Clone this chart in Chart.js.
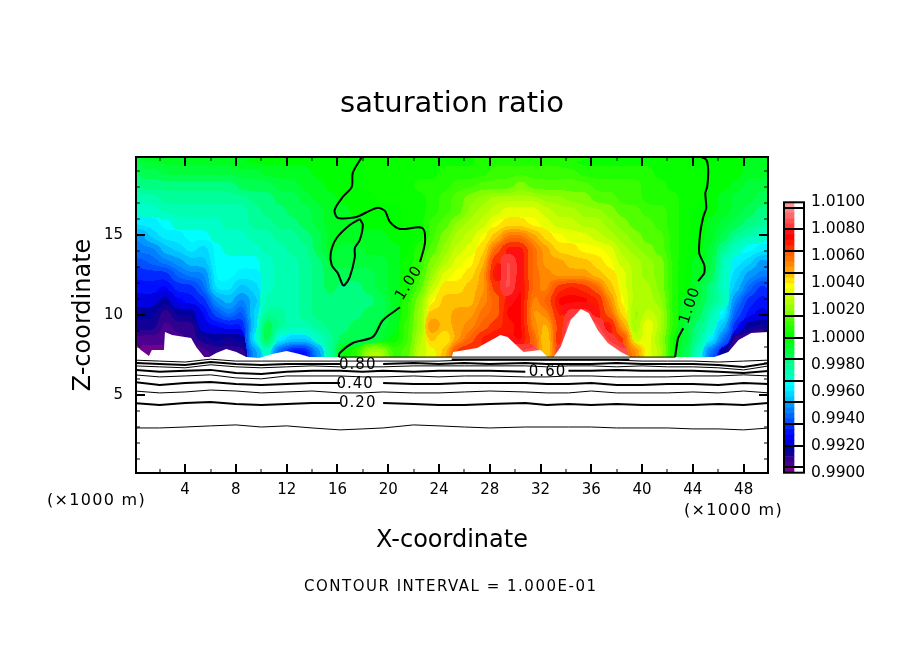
<!DOCTYPE html>
<html>
<head>
<meta charset="utf-8">
<script src="https://cdn.jsdelivr.net/npm/chart.js@4"></script>
<style>
html,body{margin:0;padding:0;background:#fff;width:904px;height:654px;overflow:hidden}
#main{position:absolute;left:0;top:0}
#bar{position:absolute;left:770px;top:186px}
</style>
</head>
<body>
<canvas id="main" width="904" height="654"></canvas>
<canvas id="bar" width="134" height="303"></canvas>
<script>
// Saturation ratio, as (ratio - 1) * 10000, one array per height (x = 0.5 ... 49.5 km)
const xCentres = [0.5,1.5,2.5,3.5,4.5,5.5,6.5,7.5,8.5,9.5,10.5,11.5,12.5,13.5,14.5,15.5,16.5,17.5,18.5,19.5,20.5,21.5,22.5,23.5,24.5,25.5,26.5,27.5,28.5,29.5,30.5,31.5,32.5,33.5,34.5,35.5,36.5,37.5,38.5,39.5,40.5,41.5,42.5,43.5,44.5,45.5,46.5,47.5,48.5,49.5];
const zCentres = [7.7,8.5,9.3,10.1,10.9,11.7,12.5,13.3,14.1,14.9,15.7,16.5,17.3,18.1,18.9,19.7];
const row076 = [-97,-97,-98,-98,-98,-94,-92,-92,-90,-50,-30,-62,-76,-76,-52,-24,-4,6,24,26,10,12,28,34,46,66,76,80,82,90,84,84,40,80,95,95,95,95,84,52,34,24,0,-14,-32,-60,-84,-98,-98,-98];
const row084 = [-94,-94,-96,-96,-92,-86,-84,-86,-82,-36,-10,-34,-44,-42,-32,-22,-14,-14,-14,-10,-4,8,24,44,38,50,60,68,72,76,72,60,40,70,95,95,95,82,64,30,34,22,2,-12,-24,-36,-60,-90,-96,-97];
const row092 = [-86,-88,-96,-90,-90,-80,-74,-70,-72,-44,-12,-22,-28,-27,-22,-20,-18,-16,-14,-12,-6,8,22,54,46,48,54,62,66,68,72,52,44,66,90,95,84,72,50,20,36,26,4,-10,-20,-32,-46,-72,-84,-88];
const row100 = [-84,-84,-92,-84,-82,-74,-62,-56,-64,-44,-24,-24,-26,-24,-20,-18,-18,-18,-16,-14,-8,4,22,46,46,48,50,56,60,72,74,50,54,70,80,82,76,62,40,20,28,26,4,-8,-14,-26,-34,-62,-72,-80];
const row108 = [-78,-80,-84,-76,-72,-68,-50,-46,-56,-48,-28,-28,-28,-24,-20,-18,-20,-20,-18,-14,-8,4,18,36,44,46,46,52,60,76,74,54,62,72,74,74,68,54,36,24,24,20,4,-6,-12,-20,-28,-54,-66,-72];
const row116 = [-72,-72,-76,-68,-66,-60,-38,-38,-48,-42,-30,-28,-28,-24,-20,-16,-18,-18,-16,-12,-8,2,14,28,40,42,44,50,64,84,74,56,52,64,68,66,60,46,34,26,24,18,6,-4,-10,-18,-30,-46,-58,-66];
const row124 = [-66,-66,-66,-60,-54,-54,-36,-34,-40,-38,-32,-28,-28,-24,-20,-14,-14,-14,-14,-12,-8,0,10,22,32,36,42,48,72,86,76,58,52,50,50,50,46,40,32,26,22,18,6,-4,-8,-14,-30,-44,-50,-56];
const row132 = [-62,-60,-56,-52,-48,-48,-34,-33,-36,-34,-30,-28,-26,-24,-18,-10,-12,-12,-12,-10,-6,0,6,18,26,32,38,44,70,84,76,56,50,48,46,44,40,36,30,24,20,16,6,-2,-6,-12,-30,-38,-44,-50];
const row140 = [-56,-54,-48,-44,-40,-44,-33,-31,-32,-30,-28,-26,-24,-22,-16,-8,-10,-9,-8,-8,-6,-2,4,14,20,28,32,40,62,76,76,56,48,42,40,38,36,32,26,20,18,14,5,0,-4,-10,-22,-30,-34,-40];
const row148 = [-50,-44,-40,-38,-34,-34,-32,-31,-29,-28,-26,-24,-22,-20,-16,-8,-7,-6,-6,-6,-4,-1,2,10,16,24,30,36,46,58,58,48,40,36,34,32,30,26,22,18,14,12,4,0,-2,-8,-14,-22,-28,-32];
const row156 = [-40,-38,-33,-30,-29,-30,-32,-28,-26,-24,-22,-20,-18,-16,-12,-8,-6,-5,-4,-4,-2,0,2,8,14,20,26,30,36,40,42,36,32,30,28,26,26,22,18,14,12,10,4,0,-2,-6,-10,-14,-18,-24];
const row164 = [-32,-30,-28,-27,-26,-26,-26,-26,-25,-22,-20,-18,-16,-14,-10,-7,-5,-4,-2,-1,-1,1,3,6,10,14,20,26,30,32,33,32,30,27,25,22,20,17,14,12,10,8,4,1,-1,-4,-8,-11,-14,-20];
const row172 = [-26,-25,-24,-23,-23,-23,-23,-22,-21,-19,-17,-15,-13,-11,-8,-5,-4,-2,-1,0,0,2,3,5,8,12,16,20,24,26,26,25,23,21,19,17,15,13,11,9,7,6,4,2,0,-3,-6,-9,-12,-16];
const row180 = [-20,-19,-19,-18,-18,-18,-18,-17,-16,-15,-13,-11,-9,-7,-5,-3,-2,-1,0,1,2,3,4,5,6,8,10,12,14,15,16,15,14,14,13,12,11,10,9,8,6,5,3,1,0,-2,-4,-6,-9,-12];
const row188 = [-13,-13,-12,-12,-12,-11,-11,-11,-10,-9,-8,-7,-6,-5,-4,-3,-2,-1,0,0,1,2,2,3,4,5,6,7,8,8,9,9,8,8,8,7,7,6,6,5,4,3,2,1,0,-1,-2,-3,-5,-8];
const row196 = [-8,-8,-7,-7,-6,-6,-5,-5,-4,-4,-3,-3,-2,-2,-2,-1,-1,-1,0,0,0,1,1,2,2,3,3,4,4,4,4,4,4,4,3,3,3,2,2,2,1,1,0,0,-1,-2,-3,-4,-5,-7];
const fieldRows = [row076,row084,row092,row100,row108,row116,row124,row132,row140,row148,row156,row164,row172,row180,row188,row196];

// Colour bands, lowest to highest, every 0.0004 from 0.9900 to 1.0100
const bandColours = ['#700090','#4c0090','#300090','#100098','#0000a0','#0000e0','#0000ff','#0010ff','#0028ff','#0050ff','#0068ff','#0080ff','#0098ff','#00c0ff','#00d8ff','#00f0ff','#00ffff','#00ffc8','#00ffb0','#00ff98','#00ff80','#00ff50','#00ff38','#00ff20','#00ff00','#08ff00','#20ff00','#38ff00','#50ff00','#80ff00','#98ff00','#b0ff00','#c8ff00','#e8ff00','#ffff00','#ffe000','#ffc000','#ffa000','#ff8800','#ff7000','#ff6000','#ff3000','#ff1800','#ff0000','#ff1010','#ff3838','#ff5050','#ff6868','#ff8080','#ff9999'];
const barSeparators = [0.9904,0.992,0.9936,0.9952,0.9968,0.9984,1.0,1.0016,1.0032,1.0048,1.0064,1.008,1.0096];

// Upper edge of the white (masked) terrain
const terrainX = [0,0.51,1.15,1.38,2.33,2.41,2.97,4.47,4.87,5.5,5.9,6.45,7.24,8.03,8.82,9.85,10.88,11.99,13,13.8,25,25.12,27,28.84,29.4,30.66,32,32.55,33.03,33.58,34.38,35.17,35.8,36.5,37.3,38.33,39.1,45.7,46.8,47.6,48.6,50];
const terrainZ = [8.25,7.81,7.44,7.81,7.81,8.94,8.75,8.56,8.0,7.37,7.37,7.62,7.87,7.69,7.37,7.31,7.56,7.75,7.56,7.37,7.37,7.69,7.94,8.75,8.63,7.69,7.81,7.37,7.37,8.0,9.69,10.37,10.12,9.07,8.25,7.69,7.37,7.37,7.69,8.44,8.88,8.94];

// Contour 1.00 above the terrain
const c100aX = [17.92,17.21,17.13,16.42,15.78,16.02,16.97,17.52,19.11,19.74,20.13,20.93,22.67,22.9,22.51];
const c100aZ = [19.87,18.89,18.01,17.38,16.57,16.07,16.07,16.13,16.69,16.51,15.82,15.38,15.44,14.56,13.31];
const c100bX = [20.93,19.58,18.79,17.21,16.18,16.1];
const c100bZ = [10.48,9.67,8.63,8.25,7.62,7.37];
const c100loopX = [17.76,18,17.76,17.37,17.37,16.97,16.57,16.42,16.02,15.55,15.47,15.94,16.97,17.76];
const c100loopZ = [16.0,15.63,14.69,14.19,13.62,12.37,11.87,11.87,12.62,13.12,13.87,14.81,15.63,16.0];
const c100cX = [44.66,45.06,45.21,45.13,44.98,45.06,44.82,44.58,44.5,44.9,44.9,44.42];
const c100cZ = [19.87,19.7,19.08,18.01,17.63,16.69,16.13,15.13,13.87,13.12,12.62,12.12];
const c100dX = [43.24,42.84,42.6];
const c100dZ = [9.17,8.56,7.37];
const c100flatX = [16.1,42.6];
const c100flatZ = [7.37,7.37];
const c100ridgeX = [25,39];
const c100ridgeZ = [7.22,7.22];

// Contours below the terrain
const lineX = [0,2,4,6,8,10,12,14,16.2,18,19.6,22,24,26,28,30.8,32.5,34.2,36,38,40,42,44,46,48,50];
const c010 = [2.94,2.94,3.0,3.07,3.13,3.0,3.07,2.94,2.82,2.88,2.94,3.13,3.07,3.0,2.94,3.0,3.0,3.0,3.0,2.94,2.94,2.94,2.88,2.88,2.82,2.94];
const c020 = [4.5,4.37,4.5,4.56,4.44,4.37,4.44,4.5,4.5,null,4.5,4.44,4.37,4.37,4.44,4.5,4.37,4.44,4.37,4.44,4.37,4.37,4.37,4.44,4.37,4.5];
const c030 = [5.25,5.13,5.19,5.31,5.25,5.13,5.19,5.25,5.13,5.13,5.19,5.13,5.13,5.19,5.25,5.19,5.13,5.13,5.25,5.13,5.13,5.13,5.19,5.13,5.25,5.13];
const c040 = [5.81,5.63,5.75,5.81,5.69,5.63,5.69,5.75,5.75,null,5.75,5.69,5.69,5.75,5.75,5.75,5.69,5.69,5.75,5.63,5.63,5.69,5.69,5.63,5.75,5.69];
const c050 = [6.26,6.13,6.19,6.26,6.07,6.01,6.19,6.19,6.19,6.13,6.13,6.19,6.13,6.19,6.19,6.13,6.13,6.19,6.19,6.13,6.13,6.13,6.19,6.19,6.26,6.19];
const c060 = [6.57,6.45,6.51,6.57,6.38,6.32,6.45,6.51,6.51,6.45,6.51,6.45,6.51,6.51,6.51,6.45,null,6.51,6.51,6.57,6.51,6.51,6.51,6.45,6.38,6.51];
const c070 = [6.82,6.76,6.7,6.89,6.76,6.7,6.76,6.82,6.76,6.76,6.76,6.82,6.82,6.82,6.82,6.82,6.76,6.82,6.82,6.76,6.82,6.76,6.76,6.7,6.57,6.82];
const c080 = [7.0,6.94,6.88,7.06,6.94,6.88,6.94,6.94,6.94,null,6.94,7.0,6.94,7.0,6.94,7.0,6.94,6.94,6.94,7.0,6.94,6.94,6.94,6.88,6.75,7.0];
const c090 = [7.18,7.12,7.06,7.24,7.12,7.12,7.12,7.12,7.12,7.12,7.12,7.12,7.12,7.18,7.18,7.18,7.18,7.18,7.18,7.18,7.12,7.12,7.12,7.06,7.12,7.18];

// Inline contour labels
const labelTexts = ['0.80','0.40','0.20','0.60','1.00','1.00'];
const labelX = [17.6,17.4,17.6,32.55,21.64,43.79];
const labelZ = [6.87,5.68,4.49,6.43,12.0,10.6];
const labelAngle = [0,0,0,0,-58,-72];

// Ticks
const xMajor = [4,8,12,16,20,24,28,32,36,40,44,48];
const xMinor = [2,6,10,14,18,22,26,30,34,38,42,46];
const zMajor = [5,10,15];
const zMinor = [1,2,3,4,6,7,8,9,11,12,13,14,16,17,18,19];

const FONT = '"DejaVu Sans"';
const colourOf = v => bandColours[Math.max(0, Math.min(49, Math.floor((v + 100) / 4)))];
const pts = (xs, zs) => xs.map((x, i) => ({x, y: zs[i]}));
const contour = (xs, zs, w, tension) => ({type:'line', data:pts(xs,zs), borderColor:'#000', borderWidth:w, pointRadius:0, fill:false, tension:tension||0, spanGaps:false, order:1, label:'contour'});

const datasets = [];
fieldRows.forEach((row, r) => {
  const z = zCentres[r];
  const lo = r === 0 ? 6.2 : z - 0.4;
  datasets.push({
    type:'bar', label:'field', order:3, grouped:false, barPercentage:1.1, categoryPercentage:1, borderWidth:0,
    data: row.map((v, i) => ({x:xCentres[i], y:[lo, z + 0.4]})),
    backgroundColor: row.map(colourOf)
  });
});
datasets.push({type:'line', label:'terrain', order:2, data:pts(terrainX, terrainZ), borderWidth:0, borderColor:'#fff', pointRadius:0, backgroundColor:'#fff', fill:'origin', tension:0});
[[c100aX,c100aZ,2,.3],[c100bX,c100bZ,2,.3],[c100loopX,c100loopZ,2,.3],[c100cX,c100cZ,2,.2],[c100dX,c100dZ,2,.2],
 [c100flatX,c100flatZ,1,0],[c100ridgeX,c100ridgeZ,2,0]].forEach(a => datasets.push(contour(a[0],a[1],a[2],a[3])));
[[c010,1],[c020,2],[c030,1],[c040,2],[c050,1],[c060,2],[c070,1],[c080,2],[c090,1]].forEach(a => datasets.push(contour(lineX,a[0],a[1])));

// Smooths the field cells into a continuous surface and snaps it to the colour bands, once the last row is drawn
const rgbBands = bandColours.map(h => [parseInt(h.slice(1,3),16), parseInt(h.slice(3,5),16), parseInt(h.slice(5,7),16)]);
const smoothField = {
  id:'smoothField',
  afterDatasetDraw(chart, args) {
    if (args.index !== 0) return;
    const a = chart.chartArea, c = chart.canvas, r = chart.currentDevicePixelRatio || 1, p = 20;
    const off = document.createElement('canvas');
    off.width = (a.width + 2*p) * r; off.height = (a.height + 2*p) * r;
    const o = off.getContext('2d');
    const s = [a.left*r, a.top*r, a.width*r, a.height*r];
    o.drawImage(c, ...s, 0, 0, off.width, off.height);
    o.drawImage(c, ...s, p*r, p*r, a.width*r, a.height*r);
    const ctx = chart.ctx;
    ctx.save();
    ctx.beginPath(); ctx.rect(a.left, a.top, a.width, a.height); ctx.clip();
    ctx.filter = 'blur(4px)';
    ctx.drawImage(off, a.left - p, a.top - p, a.width + 2*p, a.height + 2*p);
    ctx.filter = 'none';
    ctx.restore();
    const img = ctx.getImageData(s[0], s[1], s[2], s[3]), d = img.data;
    for (let i = 0; i < d.length; i += 4) {
      if (d[i+3] < 250) continue;
      let best = 0, bd = 1e9;
      for (let k = 0; k < rgbBands.length; k++) {
        const b = rgbBands[k], e = (d[i]-b[0])*(d[i]-b[0]) + (d[i+1]-b[1])*(d[i+1]-b[1]) + (d[i+2]-b[2])*(d[i+2]-b[2]);
        if (e < bd) { bd = e; best = k; }
      }
      d[i] = rgbBands[best][0]; d[i+1] = rgbBands[best][1]; d[i+2] = rgbBands[best][2];
    }
    ctx.putImageData(img, s[0], s[1]);
  }
};

const decorations = {
  id:'decorations',
  afterDatasetsDraw(chart) {
    const ctx = chart.ctx, a = chart.chartArea, X = chart.scales.x, Y = chart.scales.y;
    ctx.save();
    ctx.fillStyle = '#000';
    ctx.font = '15px ' + FONT;
    ctx.letterSpacing = '1px';
    ctx.textAlign = 'center'; ctx.textBaseline = 'middle';
    labelTexts.forEach((t, i) => {
      ctx.save();
      ctx.translate(X.getPixelForValue(labelX[i]), Y.getPixelForValue(labelZ[i]));
      ctx.rotate(labelAngle[i] * Math.PI / 180);
      ctx.fillText(t, 0, 0);
      ctx.restore();
    });
    ctx.strokeStyle = '#000';
    const xt = (list, len, w) => { ctx.lineWidth = w; list.forEach(v => { const p = Math.round(X.getPixelForValue(v));
      ctx.beginPath(); ctx.moveTo(p, a.top); ctx.lineTo(p, a.top + len); ctx.moveTo(p, a.bottom); ctx.lineTo(p, a.bottom - len); ctx.stroke(); }); };
    const zt = (list, len, w) => { ctx.lineWidth = w; list.forEach(v => { const p = Math.round(Y.getPixelForValue(v));
      ctx.beginPath(); ctx.moveTo(a.left, p); ctx.lineTo(a.left + len, p); ctx.moveTo(a.right, p); ctx.lineTo(a.right - len, p); ctx.stroke(); }); };
    xt(xMajor, 9, 2); xt(xMinor, 4, 1); zt(zMajor, 9, 2); zt(zMinor, 4, 1);
    ctx.lineWidth = 2;
    ctx.strokeRect(a.left, a.top, a.width, a.height);
    ctx.textAlign = 'left'; ctx.textBaseline = 'middle';
    ctx.font = '16px ' + FONT;
    ctx.letterSpacing = '1.3px';
    ctx.fillText('(×1000 m)', 47, 501);
    ctx.fillText('(×1000 m)', 684, 511);
    ctx.font = '15px ' + FONT;
    ctx.letterSpacing = '1.5px';
    ctx.fillText('CONTOUR INTERVAL = 1.000E-01', 304, 587);
    ctx.restore();
  }
};

const tickFont = {family:FONT, size:15};
const hideZero = v => v === 0 ? '' : String(v);

new Chart(document.getElementById('main'), {
  type:'bar',
  data:{datasets},
  plugins:[smoothField, decorations],
  options:{
    responsive:false, animation:false, events:[],
    layout:{padding:{left:0, right:0, top:0, bottom:98.6}},
    plugins:{
      legend:{display:false}, tooltip:{enabled:false},
      title:{display:true, text:'saturation ratio', color:'#000', font:{family:FONT, size:29, weight:'normal'}, padding:{top:86.6, bottom:35.6}}
    },
    scales:{
      x:{type:'linear', min:0.13, max:49.92, offset:false,
        grid:{display:false, drawTicks:false}, border:{display:false},
        ticks:{stepSize:4, includeBounds:false, autoSkip:false, maxRotation:0, color:'#000', font:tickFont, padding:8, callback:hideZero},
        title:{display:true, text:'X-coordinate', color:'#000', font:{family:FONT, size:24, weight:'normal'}, padding:0},
        afterFit(s){ s.height = 82.4; }
      },
      y:{type:'linear', min:0.125, max:19.875, beginAtZero:false,
        grid:{display:false, drawTicks:false}, border:{display:false},
        ticks:{stepSize:5, includeBounds:false, color:'#000', font:tickFont, padding:13, callback:hideZero},
        title:{display:true, text:'Z-coordinate', color:'#000', font:{family:FONT, size:24, weight:'normal'}, padding:{top:69.6, bottom:69.6}},
        afterFit(s){ s.width = 136; }
      },
      y2:{type:'linear', position:'right', min:0, max:1,
        grid:{display:false, drawTicks:false}, border:{display:false},
        ticks:{display:false},
        afterFit(s){ s.width = 136; }
      }
    }
  }
});

// Colour bar
const barSets = bandColours.map((col, i) => ({
  data:[[0.99 + i * 0.0004, 0.99 + (i + 1) * 0.0004]], backgroundColor:col, borderWidth:0,
  grouped:false, barPercentage:1, categoryPercentage:1
}));
const barFrame = {
  id:'barFrame',
  afterDatasetsDraw(chart) {
    const ctx = chart.ctx, a = chart.chartArea, Y = chart.scales.y;
    ctx.save();
    ctx.strokeStyle = '#000'; ctx.lineWidth = 2;
    barSeparators.forEach(v => { const p = Math.round(Y.getPixelForValue(v));
      ctx.beginPath(); ctx.moveTo(a.left, p); ctx.lineTo(a.right, p); ctx.stroke(); });
    ctx.strokeRect(a.left, a.top, a.width, a.height);
    ctx.restore();
  }
};
new Chart(document.getElementById('bar'), {
  type:'bar',
  data:{labels:['ratio'], datasets:barSets},
  plugins:[barFrame],
  options:{
    responsive:false, animation:false, events:[],
    layout:{padding:{left:14, top:8, bottom:9, right:0}},
    plugins:{legend:{display:false}, tooltip:{enabled:false}},
    scales:{
      x:{display:false, offset:false},
      y:{position:'right', min:0.99, max:1.01, beginAtZero:false,
        grid:{display:false, drawTicks:false}, border:{display:false},
        ticks:{stepSize:0.002, color:'#000', padding:7, font:{family:FONT, size:15.5}, callback:v => v.toFixed(4)},
        afterFit(s){ s.width = 100; }
      }
    }
  }
});
</script>
</body>
</html>
